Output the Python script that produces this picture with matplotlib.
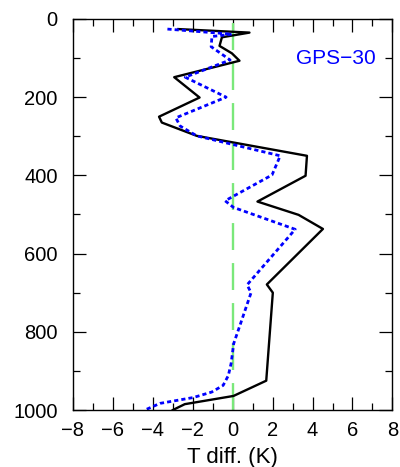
import matplotlib
matplotlib.use("Agg")
import matplotlib.pyplot as plt
from matplotlib.ticker import MultipleLocator

plt.rcParams['font.family'] = ['Liberation Sans', 'DejaVu Sans']
plt.rcParams['lines.scale_dashes'] = False

# Temperature difference profiles (K) against pressure (hPa)
p_black = [26, 35, 47, 69, 88, 107, 149, 201, 250, 265, 299, 350, 401, 467,
           501, 537, 679, 700, 925, 964, 985, 1000]
t_black = [-2.72, 0.84, -0.54, -0.66, -0.04, 0.34, -2.93, -1.66, -3.69, -3.55,
           -1.8, 3.72, 3.65, 1.24, 3.3, 4.52, 1.71, 2.01, 1.68, 0.04, -2.4, -3.0]

p_blue = [26, 39, 45, 71, 105, 149, 200, 253, 274, 299, 350, 399, 465, 482,
          538, 680, 700, 778, 830, 881, 912, 937, 954, 968, 983, 1000]
t_blue = [-3.27, -0.04, -1.04, -1.08, -0.13, -2.38, -0.33, -2.85, -2.63, -1.8,
          2.38, 1.97, -0.38, 0.04, 3.13, 0.72, 0.92, 0.4, 0.05, -0.08, -0.22,
          -0.48, -1.05, -1.97, -3.64, -4.4]

x_ticks = [-8, -6, -4, -2, 0, 2, 4, 6, 8]
y_ticks = [0, 200, 400, 600, 800, 1000]
label = "GPS\u221230"

fig = plt.figure(figsize=(4.0, 4.67), dpi=100)
ax = fig.add_axes([0.1825, 0.122, 0.7985, 0.8375])

ax.plot([0, 0], [1000, 0], color='#7ae87a', lw=1.7, dashes=(19.4, 9.4))
ax.plot(t_black, p_black, color='black', lw=1.7)
ax.plot(t_blue, p_blue, color='#0000ff', lw=2.0, dashes=(3.0, 2.2))

ax.set_xlim(-8, 8)
ax.set_ylim(1000, 0)
ax.set_xticks(x_ticks)
ax.set_yticks(y_ticks)
ax.xaxis.set_minor_locator(MultipleLocator(1))
ax.yaxis.set_minor_locator(MultipleLocator(100))
ax.tick_params(which='both', direction='in', top=True, right=True,
               labelsize=14.5, width=0.9, color='black')
ax.tick_params(which='major', length=9.4)
ax.tick_params(which='minor', length=4.8)
ax.tick_params(axis='x', which='major', pad=8)
ax.tick_params(axis='y', which='major', pad=11)
for s in ax.spines.values():
    s.set_linewidth(1.0)

ax.set_xlabel("T diff. (K)", fontsize=16, labelpad=5)
ax.text(0.948, 0.90, label, transform=ax.transAxes, color='#0000ff',
        fontsize=15, ha='right', va='center')

fig.savefig("out.png", dpi=100)
